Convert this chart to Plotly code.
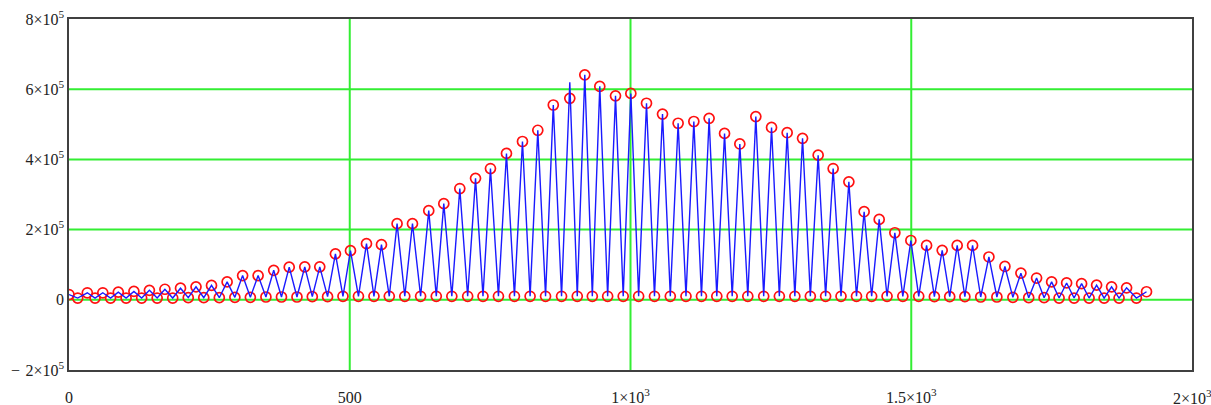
import plotly.graph_objects as go

# ---- data (x in samples, y in counts) ----
start_x, start_y = 0, 15000
end_x, end_y = 1919, 23000

peak_x = [32.6, 60.2, 87.8, 115.6, 143.2, 170.8, 198.6, 226.2, 253.8, 281.6,
          309.2, 336.8, 364.6, 392.2, 419.9, 446.6, 474.5, 501.3, 529.8, 556.5,
          584.3, 611.7, 640.7, 667.5, 696.0, 724.0, 750.6, 779.1, 807.6, 834.9,
          862.5, 891.9, 918.6, 945.3, 973.3, 1000.6, 1028.5, 1057.0, 1084.8, 1112.8,
          1140.0, 1167.5, 1194.7, 1223.2, 1251.2, 1279.0, 1306.4, 1334.2, 1360.9, 1388.9,
          1416.1, 1442.9, 1470.8, 1499.3, 1527.3, 1555.1, 1581.8, 1609.2, 1638.3, 1666.8,
          1695.3, 1723.2, 1750.0, 1776.7, 1803.4, 1830.1, 1856.8, 1883.5]

peak_y = [20000, 20000, 22000, 24000, 27000, 30000, 33000, 37000, 41000, 51000,
          69000, 69000, 84000, 93000, 94000, 94000, 131000, 140000, 160000, 157000,
          217000, 217000, 254000, 274000, 317000, 346000, 374000, 417000, 451000, 483000,
          555000, 574000, 641000, 608000, 581000, 588000, 560000, 529000, 503000, 508000,
          517000, 474000, 444000, 522000, 491000, 476000, 460000, 412000, 374000, 336000,
          251000, 229000, 191000, 169000, 155000, 141000, 155000, 155000, 122000, 95000,
          76000, 62000, 51000, 48000, 46000, 42000, 37000, 34000]

trough_x = [15.5, 46.4, 74.0, 101.7, 129.4, 157.0, 184.7, 212.4, 240.0, 267.7,
            295.4, 323.0, 350.7, 378.4, 406.0, 433.3, 460.5, 487.9, 515.5, 543.1,
            570.4, 598.0, 626.2, 654.1, 681.8, 710.0, 737.3, 764.8, 793.3, 821.2,
            848.7, 877.2, 905.2, 932.0, 959.3, 987.0, 1014.5, 1042.7, 1070.9, 1098.8,
            1126.4, 1153.7, 1181.1, 1208.9, 1237.2, 1265.1, 1292.7, 1320.3, 1347.5, 1374.9,
            1402.5, 1429.5, 1456.9, 1485.0, 1513.3, 1541.2, 1568.5, 1595.5, 1623.7, 1652.5,
            1681.0, 1709.2, 1736.6, 1763.3, 1790.0, 1816.7, 1843.5, 1870.1, 1901.0]

trough_y = [5000, 5000, 5000, 5000, 5000, 5000, 5000, 6000, 6000, 6000,
            7000, 7000, 8000, 8000, 8000, 9000, 9000, 10000, 10000, 10000,
            10000, 10000, 10000, 10000, 10000, 10000, 10000, 10000, 10000, 10000,
            10000, 10000, 10000, 10000, 10000, 10000, 10000, 10000, 10000, 10000,
            10000, 10000, 10000, 10000, 10000, 10000, 10000, 10000, 10000, 10000,
            10000, 10000, 10000, 10000, 10000, 9000, 9000, 9000, 8000, 8000,
            7000, 6000, 6000, 5000, 5000, 5000, 5000, 5000, 5000]

# the blue trace overshoots the circles at one peak
line_peak_y = list(peak_y)
line_peak_y[31] = 620000

grid_x = [500, 1000, 1500]
grid_y = [0, 200000, 400000, 600000]

x_ticks = [0, 500, 1000, 1500]
x_text = ["0", "500", "1×10<sup>3</sup>", "1.5×10<sup>3</sup>"]
x_last_tick, x_last_text = 2000, "2×10<sup>3</sup>"   # cut by the window edge
y_ticks = [-200000, 0, 200000, 400000, 600000, 800000]
y_text = ["\u2212\u20042×10<sup>5</sup>", "0", "2×10<sup>5</sup>", "4×10<sup>5</sup>",
          "6×10<sup>5</sup>", "8×10<sup>5</sup>"]


def sequence(py):
    xs, ys = [start_x], [start_y]
    for i in range(len(peak_x)):
        xs += [trough_x[i], peak_x[i]]
        ys += [trough_y[i], py[i]]
    xs += [trough_x[-1], end_x]
    ys += [trough_y[-1], end_y]
    return xs, ys


mx, my = sequence(peak_y)
lx, ly = sequence(line_peak_y)

fig = go.Figure()
fig.add_trace(go.Scatter(x=mx, y=my, mode="markers",
                         marker=dict(symbol="circle-open", size=10, color="#ff1010",
                                     line=dict(width=1.7, color="#ff1010")),
                         showlegend=False, hoverinfo="skip"))
fig.add_trace(go.Scatter(x=lx, y=ly, mode="lines",
                         line=dict(color="#1a1aff", width=1.4),
                         showlegend=False, hoverinfo="skip"))

shapes = []
for gx in grid_x:
    shapes.append(dict(type="line", xref="x", yref="paper", x0=gx, x1=gx, y0=0, y1=1,
                       line=dict(color="#33ee33", width=2), layer="below"))
for gy in grid_y:
    shapes.append(dict(type="line", xref="paper", yref="y", x0=0, x1=1, y0=gy, y1=gy,
                       line=dict(color="#33ee33", width=2), layer="below"))

font = dict(family="Liberation Serif, Times New Roman, serif", size=16, color="#222222")

fig.update_layout(
    width=1211, height=405,
    margin=dict(l=69, r=19, t=19, b=35, autoexpand=False),
    paper_bgcolor="white", plot_bgcolor="white",
    font=font,
    shapes=shapes,
    annotations=[dict(x=x_last_tick, xref="x", y=0, yref="paper", text=x_last_text,
                      showarrow=False, xanchor="center", yanchor="middle", yshift=-27,
                      font=font)],
    xaxis=dict(range=[0, 2000], showgrid=False, zeroline=False, automargin=False,
               showline=True, mirror=True, linecolor="#404040", linewidth=1.5,
               tickmode="array", tickvals=x_ticks, ticktext=x_text,
               ticks="", ticklabelstandoff=12, tickfont=font),
    yaxis=dict(range=[-200000, 800000], showgrid=False, zeroline=False, automargin=False,
               showline=True, mirror=True, linecolor="#404040", linewidth=1.5,
               tickmode="array", tickvals=y_ticks, ticktext=y_text,
               ticks="", ticklabelstandoff=0, tickfont=font),
)

fig.write_html("out.html")
